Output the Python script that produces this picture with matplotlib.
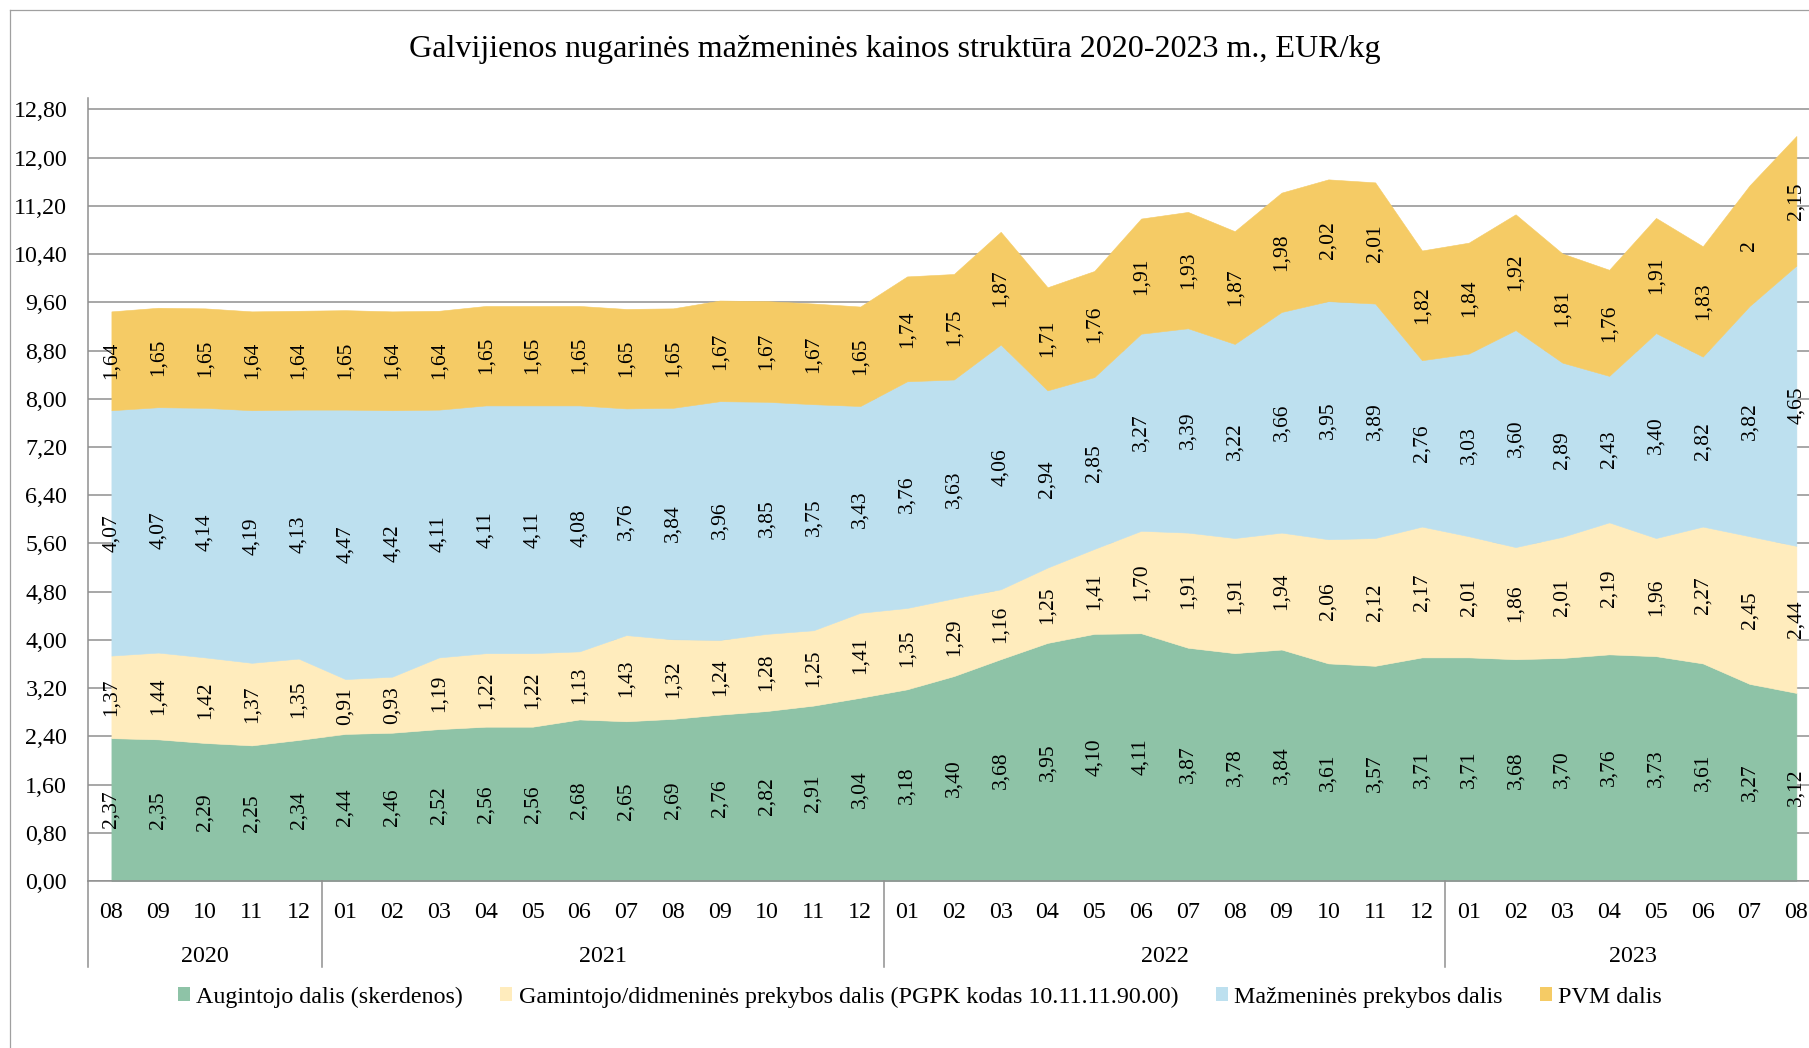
import matplotlib
matplotlib.use('Agg')
import matplotlib.pyplot as plt
from matplotlib.patches import Patch
from matplotlib.lines import Line2D

# ---------------- data ----------------
months = ["08", "09", "10", "11", "12",
          "01", "02", "03", "04", "05", "06", "07", "08", "09", "10", "11", "12",
          "01", "02", "03", "04", "05", "06", "07", "08", "09", "10", "11", "12",
          "01", "02", "03", "04", "05", "06", "07", "08"]
years = ["2020"] * 5 + ["2021"] * 12 + ["2022"] * 12 + ["2023"] * 8

augintojo = [2.37, 2.35, 2.29, 2.25, 2.34,
             2.44, 2.46, 2.52, 2.56, 2.56, 2.68, 2.65, 2.69, 2.76, 2.82, 2.91, 3.04,
             3.18, 3.40, 3.68, 3.95, 4.10, 4.11, 3.87, 3.78, 3.84, 3.61, 3.57, 3.71,
             3.71, 3.68, 3.70, 3.76, 3.73, 3.61, 3.27, 3.12]
gamintojo = [1.37, 1.44, 1.42, 1.37, 1.35,
             0.91, 0.93, 1.19, 1.22, 1.22, 1.13, 1.43, 1.32, 1.24, 1.28, 1.25, 1.41,
             1.35, 1.29, 1.16, 1.25, 1.41, 1.70, 1.91, 1.91, 1.94, 2.06, 2.12, 2.17,
             2.01, 1.86, 2.01, 2.19, 1.96, 2.27, 2.45, 2.44]
mazmenines = [4.07, 4.07, 4.14, 4.19, 4.13,
              4.47, 4.42, 4.11, 4.11, 4.11, 4.08, 3.76, 3.84, 3.96, 3.85, 3.75, 3.43,
              3.76, 3.63, 4.06, 2.94, 2.85, 3.27, 3.39, 3.22, 3.66, 3.95, 3.89, 2.76,
              3.03, 3.60, 2.89, 2.43, 3.40, 2.82, 3.82, 4.65]
pvm = [1.64, 1.65, 1.65, 1.64, 1.64,
       1.65, 1.64, 1.64, 1.65, 1.65, 1.65, 1.65, 1.65, 1.67, 1.67, 1.67, 1.65,
       1.74, 1.75, 1.87, 1.71, 1.76, 1.91, 1.93, 1.87, 1.98, 2.02, 2.01, 1.82,
       1.84, 1.92, 1.81, 1.76, 1.91, 1.83, 2.00, 2.15]

series_names = ["Augintojo dalis (skerdenos)",
                "Gamintojo/didmeninės prekybos dalis (PGPK kodas 10.11.11.90.00)",
                "Mažmeninės prekybos dalis",
                "PVM dalis"]
colors = ["#8EC3A7", "#FFECBD", "#BDE0EF", "#F5CB65"]
title = "Galvijienos nugarinės mažmeninės kainos struktūra 2020-2023 m., EUR/kg"
y_ticks = [0.0, 0.8, 1.6, 2.4, 3.2, 4.0, 4.8, 5.6, 6.4, 7.2, 8.0, 8.8, 9.6,
           10.4, 11.2, 12.0, 12.8]

# ---------------- style ----------------
plt.rcParams['font.family'] = ['Liberation Serif', 'DejaVu Serif']
W, H = 1809, 1048
AX_FS = 17.3
LBL_FS = 15.5
GRAY = "#8f8f8f"

fig = plt.figure(figsize=(W / 100, H / 100), dpi=100)
ax_left, ax_bottom_px, ax_top_px = 88, 881, 98
ax_h = ax_bottom_px - ax_top_px
n = len(months)
step_px = (1797 - 112) / (n - 1)
ax_w = step_px * n
ax = fig.add_axes([ax_left / W, 1 - ax_bottom_px / H, ax_w / W, ax_h / H])

x = list(range(n))
series = [augintojo, gamintojo, mazmenines, pvm]
polys = ax.stackplot(x, *series, colors=colors, linewidth=0)
for p, c in zip(polys, colors):
    p.set_edgecolor(c)
    p.set_linewidth(0.4)

ax.set_xlim(-0.5, n - 0.5)
ax.set_ylim(0, 12.99)
ax.set_yticks(y_ticks)
ax.set_yticklabels([f"{v:.2f}".replace('.', ',') for v in y_ticks], fontsize=AX_FS)
ax.tick_params(axis='y', length=0, pad=15)
ax.set_xticks([])
ax.yaxis.grid(True, color=GRAY, linewidth=1.1)
ax.set_axisbelow(True)
for s in ['top', 'right']:
    ax.spines[s].set_visible(False)
for s in ['left', 'bottom']:
    ax.spines[s].set_color(GRAY)
    ax.spines[s].set_linewidth(1.1)


def fmt(v):
    if v == int(v):
        return str(int(v))
    return f"{v:.2f}".replace('.', ',')


# data labels centred in each band
base = [0.0] * n
for s in series:
    for i, v in enumerate(s):
        ax.text(i, base[i] + v / 2, fmt(v), rotation=90, ha='center', va='center',
                fontsize=LBL_FS, color='black')
    base = [b + v for b, v in zip(base, s)]

# category axis: months, years and group separators
xt = ax.get_xaxis_transform()
for i, m in enumerate(months):
    ax.text(i, -(918 - 881) / ax_h, m, transform=xt, ha='center', va='baseline',
            fontsize=AX_FS)

groups = []
for i, yv in enumerate(years):
    if not groups or groups[-1][0] != yv:
        groups.append([yv, i, i])
    else:
        groups[-1][2] = i
sep_bottom = -(967 - 881) / ax_h
for yv, i0, i1 in groups:
    ax.text((i0 + i1) / 2, -(962 - 881) / ax_h, yv, transform=xt, ha='center',
            va='baseline', fontsize=AX_FS)
    ax.plot([i0 - 0.5, i0 - 0.5], [0, sep_bottom], transform=xt, color=GRAY,
            lw=1.1, clip_on=False)

# title
fig.text(894.5 / W, 1 - 57 / H, title, ha='center', va='baseline', fontsize=23.1)

# legend
handles = [Patch(facecolor=c, edgecolor='none') for c in colors]
fig.legend(handles, series_names, loc='center', bbox_to_anchor=(920 / W, 1 - 997 / H),
           ncol=4, frameon=False, fontsize=AX_FS, handlelength=0.5, handleheight=0.5,
           handletextpad=0.27, columnspacing=1.55, borderaxespad=0, borderpad=0)

# outer chart frame (right and bottom edges fall outside the picture)
fig.add_artist(Line2D([10 / W, 10 / W], [0, 1 - 10 / H], transform=fig.transFigure,
                      color="#a0a0a0", lw=0.9))
fig.add_artist(Line2D([10 / W, 1], [1 - 10 / H, 1 - 10 / H], transform=fig.transFigure,
                      color="#a0a0a0", lw=0.9))

fig.savefig('out.png', dpi=100)
